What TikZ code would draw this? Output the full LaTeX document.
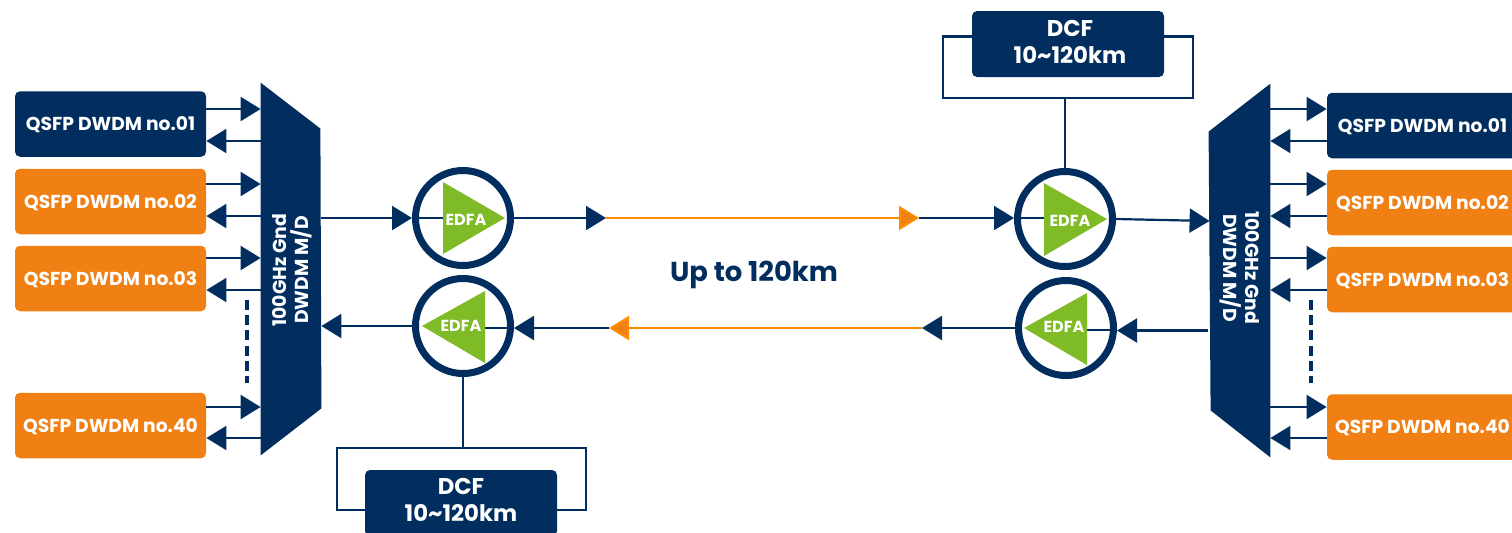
\documentclass[tikz,border=0pt]{standalone}
\usepackage{fontspec}
\setmainfont{Poppins}
\usetikzlibrary{arrows.meta,calc}
\definecolor{navy}{HTML}{022E5F}
\definecolor{qorange}{HTML}{F08013}
\definecolor{edfagreen}{HTML}{7FBA27}
\tikzset{
  qbox/.style={rounded corners=2.5pt,minimum width=95.5pt,minimum height=32.75pt,inner sep=0pt,text=white,text height=6.5pt,text depth=0pt,font=\fontsize{9.35}{11}\selectfont\bfseries},
  qnavy/.style={qbox,fill=navy},
  qorg/.style={qbox,fill=qorange},
  dcfbox/.style={rounded corners=2.5pt,fill=navy,minimum width=96pt,minimum height=33pt,inner sep=0pt},
  dcftext/.style={text=white,font=\fontsize{11.4}{13.5}\selectfont\bfseries,align=center,inner sep=0pt},
  amp/.style={circle,draw=navy,line width=3.5pt,fill=white,minimum size=47.5pt,inner sep=0pt},
  edfatext/.style={text=white,font=\fontsize{8}{9}\selectfont\bfseries,inner sep=0pt},
  muxframe/.style={inner sep=0pt,minimum width=30pt},
  muxtext/.style={text=white,font=\fontsize{9.4}{11}\selectfont\bfseries,align=center,inner sep=0pt},
  wire/.style={draw=navy,line width=1.1pt},
  link/.style={wire,-{Triangle[length=10pt,width=12pt,fill=navy]}},
  olink/.style={draw=orange!90!yellow,line width=1.1pt,-{Triangle[length=10pt,width=12pt,fill=qorange]}},
  ddash/.style={draw=navy,line width=1.65pt,dash pattern=on 5pt off 2.6pt},
}
\begin{document}
\begin{tikzpicture}[x=.5pt,y=-.5pt]
\useasboundingbox (0,0) rectangle (1512,532);
\clip (0,0) rectangle (1512,532);
% multiplexers
\node[muxframe,minimum height=186pt] (ml) at (291,269) {};
\node[muxframe,minimum height=186.5pt] (mr) at (1240,270.5) {};
\fill[navy] (ml.north west) -- ($(ml.north east)+(-1,46)$) -- ($(ml.south east)+(0,-47)$) -- (ml.south west) -- cycle;
\fill[navy] (mr.north east) -- ($(mr.north west)+(-1,48)$) -- ($(mr.south west)+(1,-47)$) -- (mr.south east) -- cycle;
\node[muxtext,rotate=90] (mlt) at (292,270) {100GHz Gnd\\DWDM M/D};
\node[muxtext,rotate=-90] (mrt) at (1240,268) {100GHz Gnd\\DWDM M/D};
% left transceivers
\node[qnavy] (q1) at (110.5,124) {QSFP DWDM no.01};
\node[qorg] (q2) at (110.5,201.5) {QSFP DWDM no.02};
\node[qorg] (q3) at (110.5,278.5) {QSFP DWDM no.03};
\node[qorg] (q4) at (110.5,425.5) {QSFP DWDM no.40};
% right transceivers
\node[qnavy] (r1) at (1422.5,125.5) {QSFP DWDM no.01};
\node[qorg] (r2) at (1422.5,202.5) {QSFP DWDM no.02};
\node[qorg] (r3) at (1422.5,279.5) {QSFP DWDM no.03};
\node[qorg] (r4) at (1422.5,427) {QSFP DWDM no.40};
\foreach \b/\u/\d in {q1/109/141,q2/184/216,q3/258/290,q4/407/438}{
  \draw[link] (\b.east |- 0,\u) -- (ml.west |- 0,\u);
  \draw[link] (ml.west |- 0,\d) -- (\b.east |- 0,\d);
}
\foreach \b/\u/\d in {r1/109/141,r2/184/216,r3/258/290,r4/407/438}{
  \draw[link] (mr.east |- 0,\u) -- (\b.west |- 0,\u);
  \draw[link] (\b.west |- 0,\d) -- (mr.east |- 0,\d);
}
\coordinate (dl1) at (247,300);
\coordinate (dl2) at (247,383);
\coordinate (dr1) at (1311,300);
\coordinate (dr2) at (1311,383);
\draw[ddash] (dl1) -- (dl2);
\draw[ddash] (dr1) -- (dr2);
% DCF loops
\node[dcfbox] (dcfl) at (461,503) {};
\node[dcfbox] (dcfr) at (1068,44) {};
\coordinate (ltl) at (337,448);
\coordinate (ltr) at (586,448);
\coordinate (rbl) at (943,98);
\coordinate (rbr) at (1193,98);
\draw[wire] (dcfl.west |- 0,510) -| (ltl) -- (ltr) |- (dcfl.east |- 0,510);
\draw[wire] (dcfr.west |- 0,36.5) -| (rbl) -- (rbr) |- (dcfr.east |- 0,36.5);
% amplifiers
\node[amp] (a1) at (463,218) {};
\node[amp] (a2) at (463,326) {};
\node[amp] (a3) at (1065,219) {};
\node[amp] (a4) at (1066,328) {};
\draw[wire] (a2.south) -- (a2.south |- ltl);
\draw[wire] (a3.north) -- (a3.north |- rbl);
% wires inside the circles
\draw[wire] (a1.west) -- (445,218);
\draw[wire] (1016,218) -- (1048,218);
\draw[wire] (514,328) -- (484,328);
\draw[wire] (1116,330) -- (1084,330);
% green triangles
\fill[edfagreen] (443,182) -- (505,218) -- (443,254) -- cycle;
\fill[edfagreen] (485,291) -- (422,326) -- (485,363) -- cycle;
\fill[edfagreen] (1044,183) -- (1107,219) -- (1044,256) -- cycle;
\fill[edfagreen] (1087,293) -- (1024,328) -- (1087,365) -- cycle;
\node[edfatext] (e1) at (466,220) {EDFA};
\node[edfatext] (e2) at (461,326) {EDFA};
\node[edfatext] (e3) at (1070,221) {EDFA};
\node[edfatext] (e4) at (1064,327) {EDFA};
% main line
\coordinate (f1) at (606,218);
\coordinate (f2) at (919,218);
\coordinate (b1) at (922,328);
\coordinate (b2) at (609,328);
\draw[link] (ml.east |- a1) -- (a1.west);
\draw[link] (a1.east) -- (f1);
\draw[olink] (f1) -- (f2);
\draw[link] (f2) -- (a3.west |- f2);
\draw[link] (a3.east) -- (mr.west |- 0,221);
\draw[link] (1208,330.5) -- (a4.east |- 0,330.5);
\draw[link] (a4.west) -- (b1);
\draw[olink] (b1) -- (b2);
\draw[link] (b2) -- (a2.east |- b2);
\draw[link] (a2.west) -- (ml.east |- a2);
% texts
\node[dcftext] (dtl) at (461,500) {DCF\\10\char`~120km};
\node[dcftext] (dtr) at (1070,42) {DCF\\10\char`~120km};
\node[text=navy,inner sep=0pt,text height=9.6pt,text depth=0pt,font=\fontsize{13.7}{16}\selectfont\bfseries] (reach) at (754,272) {Up to 120km};
\end{tikzpicture}
\end{document}
